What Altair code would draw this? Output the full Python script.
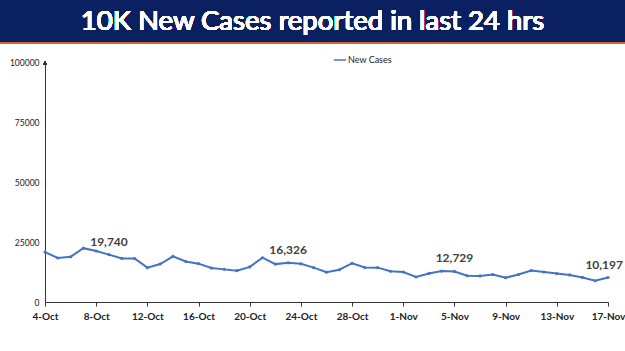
import altair as alt
import pandas as pd

dates = ["4-Oct","5-Oct","6-Oct","7-Oct","8-Oct","9-Oct","10-Oct","11-Oct","12-Oct","13-Oct",
         "14-Oct","15-Oct","16-Oct","17-Oct","18-Oct","19-Oct","20-Oct","21-Oct","22-Oct","23-Oct",
         "24-Oct","25-Oct","26-Oct","27-Oct","28-Oct","29-Oct","30-Oct","31-Oct","1-Nov","2-Nov",
         "3-Nov","4-Nov","5-Nov","6-Nov","7-Nov","8-Nov","9-Nov","10-Nov","11-Nov","12-Nov",
         "13-Nov","14-Nov","15-Nov","16-Nov","17-Nov"]
new_cases = [20799, 18346, 18833, 22431, 21257, 19740, 18166, 18132, 14313, 15823,
             18987, 16862, 15981, 14146, 13596, 13058, 14623, 18454, 15786, 16326,
             15906, 14306, 12428, 13451, 16156, 14348, 14313, 12830, 12514, 10423,
             11903, 12885, 12729, 10929, 10853, 11451, 10126, 11466, 13091, 12516,
             11850, 11271, 10229, 8865, 10197]
tick_dates = ["4-Oct","8-Oct","12-Oct","16-Oct","20-Oct","24-Oct","28-Oct","1-Nov","5-Nov","9-Nov","13-Nov","17-Nov"]
y_ticks = [0, 25000, 50000, 75000, 100000]
ann_dates = ["9-Oct", "23-Oct", "5-Nov"]
ann_text = ["19,740", "16,326", "12,729"]
last_date = "17-Nov"
last_text = "10,197"
title_text = "10K New Cases reported in last 24 hrs"

df = pd.DataFrame({"date": dates, "cases": new_cases, "series": "New Cases"})
ann = pd.DataFrame({"date": ann_dates, "label": ann_text})
ann = ann.merge(df[["date", "cases"]], on="date")
ann_last = pd.DataFrame({"date": [last_date], "label": [last_text]}).merge(df[["date", "cases"]], on="date")

W, H = 563, 240
BLUE = "#4472C4"

xscale = alt.Scale(type="point", padding=0, domain=dates)
yscale = alt.Scale(domain=[0, 100000], nice=False)

x = alt.X("date:O", sort=dates, title=None, scale=xscale,
          axis=alt.Axis(values=tick_dates, labelAngle=0, labelFont="Lato", labelFontWeight="bold",
                        labelFontSize=10, labelColor="#222222", domainColor="#333333",
                        tickColor="#333333", tickSize=4, labelPadding=5, grid=False))
y = alt.Y("cases:Q", title=None, scale=yscale,
          axis=alt.Axis(values=y_ticks, format="d", labelFont="Lato", labelFontSize=8.5,
                        labelColor="#222222", domainColor="#333333", ticks=False,
                        labelPadding=6, grid=False))

line = alt.Chart(df).mark_line(color=BLUE, strokeWidth=2, point=alt.OverlayMarkDef(color=BLUE, size=10, filled=True)).encode(
    x=x, y=y,
    color=alt.Color("series:N", scale=alt.Scale(range=[BLUE]),
                    legend=alt.Legend(orient="none", legendX=288, legendY=-9, title=None,
                                      symbolType="stroke", symbolSize=150, symbolStrokeWidth=1.5,
                                      labelFont="Lato", labelFontSize=9, labelColor="#222222",
                                      labelOffset=1, padding=0))
)

labels = alt.Chart(ann).mark_text(dy=-13, font="Lato", fontSize=12, fontWeight="bold", color="#404040").encode(
    x=alt.X("date:O", sort=dates, scale=xscale),
    y=alt.Y("cases:Q", scale=yscale),
    text="label:N")
label_last = alt.Chart(ann_last).mark_text(dy=-13, dx=15, align="right", font="Lato", fontSize=12,
                                           fontWeight="bold", color="#404040").encode(
    x=alt.X("date:O", sort=dates, scale=xscale),
    y=alt.Y("cases:Q", scale=yscale),
    text="label:N")

banner = alt.Chart(df).mark_rect(color="#0B2060").encode(
    x=alt.value(-45), x2=alt.value(580), y=alt.value(-62), y2=alt.value(-20))
stripe = alt.Chart(df).mark_rect(color="#D0643A").encode(
    x=alt.value(-45), x2=alt.value(580), y=alt.value(-20), y2=alt.value(-18.5))
title = alt.Chart(df).mark_text(text=title_text, font="Lato", fontSize=27.5, color="white",
                                align="center", baseline="middle").encode(
    x=alt.value(267.5), y=alt.value(-40))
arrow = alt.Chart(df).mark_point(shape="triangle-up", filled=True, color="#333333", size=14).encode(
    x=alt.value(0), y=alt.value(1))

chart = alt.layer(banner, stripe, title, line, labels, label_last, arrow).properties(
    width=W, height=H,
    autosize=alt.AutoSizeParams(type="none"),
    padding={"left": 45, "top": 62, "right": 17, "bottom": 49},
    background="white",
).configure_view(stroke=None)

chart.save("out.html", embed_options={"renderer": "svg", "actions": False})
